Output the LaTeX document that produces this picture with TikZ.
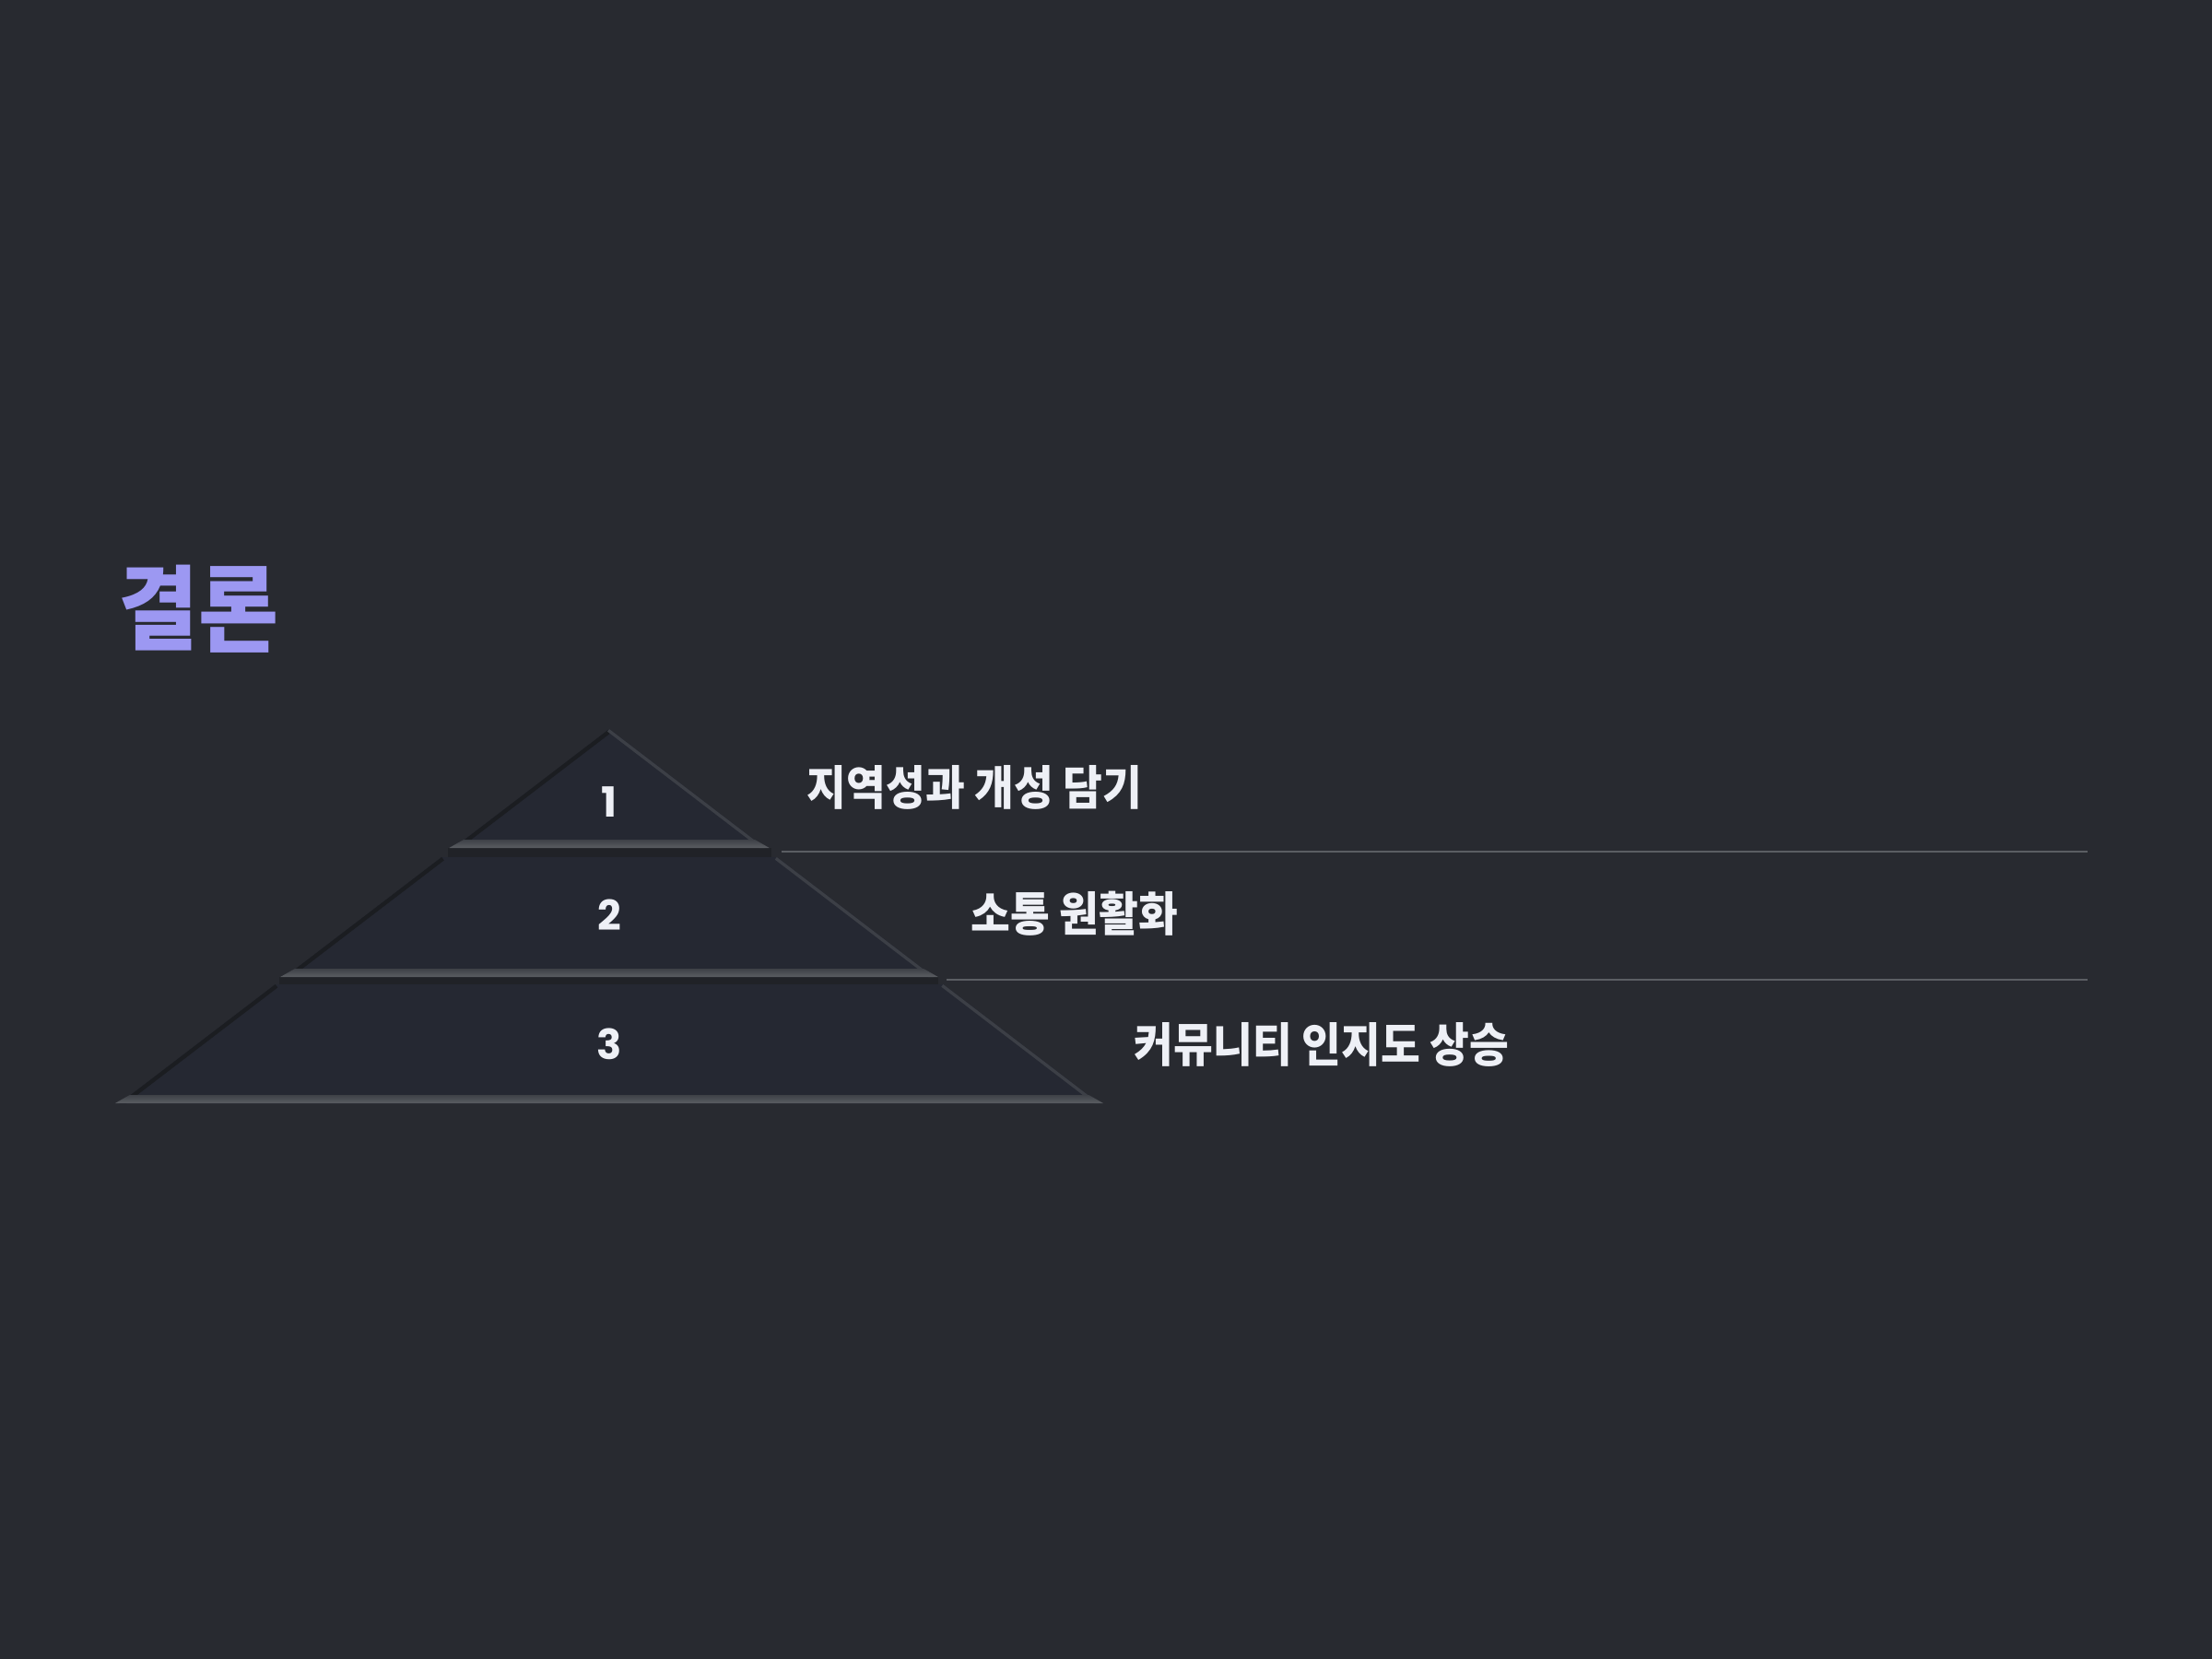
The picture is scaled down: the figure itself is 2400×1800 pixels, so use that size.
\documentclass[tikz,border=0pt]{standalone}
\usepackage{fontspec}
\newfontfamily\krfont[FakeStretch=0.912]{Noto Sans CJK KR}
\newfontfamily\krtitlefont[FakeStretch=0.945]{Noto Sans CJK KR}
\newfontfamily\numfont{Poppins Bold}
\definecolor{bg}{HTML}{282A30}
\definecolor{tierfill}{HTML}{252832}
\definecolor{edgedark}{HTML}{1B1D21}
\definecolor{edgelight}{HTML}{3C3F46}
\definecolor{bandtop}{HTML}{3E4147}
\definecolor{bandmid}{HTML}{7A7D82}
\definecolor{bandbot}{HTML}{5A5D62}
\definecolor{shadowc}{HTML}{202227}
\definecolor{rulec}{HTML}{5B5E63}
\definecolor{txt}{HTML}{EEF0F6}
\definecolor{titlec}{HTML}{9C98F2}
\tikzset{
  titletext/.style={inner sep=0pt, anchor=west, text=titlec, font=\krtitlefont\bfseries\fontsize{30pt}{36pt}\selectfont},
  labeltext/.style={inner sep=0pt, anchor=west, text=txt, font=\krfont\bfseries\fontsize{15.3pt}{18pt}\selectfont},
  numtext/.style={inner sep=0pt, text=txt, font=\numfont\fontsize{13.5pt}{16pt}\selectfont},
  rule/.style={draw=rulec, line width=0.6pt},
}
\newcommand\pyrtier[2]{%
  \pgfmathsetmacro\hT{1.308*(#1-791)}%
  \pgfmathsetmacro\hB{1.308*(#2-791)}%
  \pgfmathsetmacro\hK{1.308*(#2-9-791)}%
  \fill[tierfill] (661-\hT,#1) -- (661+\hT,#1) -- (661+\hB,#2) -- (661-\hB,#2) -- cycle;
  \begin{scope}
    \clip (661-\hT,#1) -- (661+\hT,#1) -- (661+\hB,#2) -- (661-\hB,#2) -- cycle;
    \draw[edgedark, line width=2.6pt] (661-\hT,#1) -- (661-\hB,#2);
    \draw[edgelight, line width=2pt] (661+\hT,#1) -- (661+\hB,#2);
  \end{scope}
  \shade[top color=bandtop, middle color=bandmid, bottom color=bandbot]
    (661-\hK-1,#2-9) -- (661+\hK+1,#2-9) -- (661+\hB+5,#2) -- (661-\hB-5,#2) -- cycle;
}
\begin{document}
\begin{tikzpicture}[x=0.3pt,y=-0.3pt]
\fill[bg] (0,0) rectangle (2400,1800);
\useasboundingbox (0,0) rectangle (2400,1800);

% title
\node[titletext] (title) at (128,661) {결론};

% shadows under tiers
\fill[shadowc] (486,920) rectangle (837,931);
\fill[shadowc] (303,1060) rectangle (1018,1069);

% tiers
\pyrtier{791}{920}
\pyrtier{930}{1060}
\pyrtier{1068}{1197}

% numbers
\node[numtext] (n1) at (661,870.5) {1};
\node[numtext] (n2) at (661,993) {2};
\node[numtext] (n3) at (661,1133) {3};

% separator rules
\coordinate (r1a) at (848,923.5);
\coordinate (r1b) at (2265,923.5);
\coordinate (r2a) at (1027,1063);
\coordinate (r2b) at (2265,1063);
\draw[rule] (r1a) -- (r1b);
\draw[rule] (r2a) -- (r2b);

% labels
\node[labeltext] (l1) at (875,854.5) {지역성과 개성 담기};
\node[labeltext] (l2) at (1053,991.5) {소통 원활화};
\node[labeltext] (l3) at (1230,1133.5) {커뮤니티 인지도 상승};
\end{tikzpicture}
\end{document}
